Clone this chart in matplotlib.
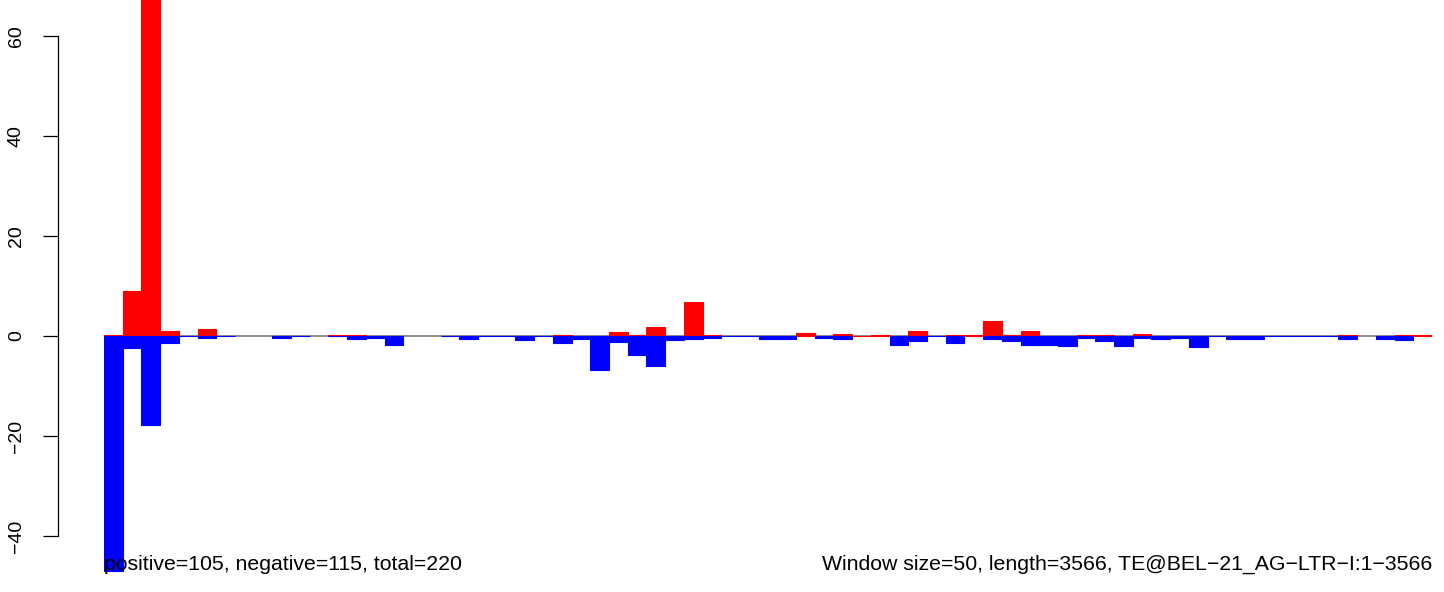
import numpy as np
import matplotlib
matplotlib.use("Agg")
import matplotlib.pyplot as plt

plt.rcParams['font.family'] = ['Liberation Sans', 'DejaVu Sans']

window = 50
length = 3566
n_bins = 71

positive = [0.2, 9.0, 75.0, 1.0, 0, 1.4, 0, 0, 0, 0,
            0, 0, 0.2, 0.2, 0, 0, 0, 0, 0, 0,
            0, 0, 0, 0, 0.2, 0, 0, 0.8, 0.2, 1.8,
            0, 6.8, 0.2, 0, 0, 0, 0, 0.6, 0, 0.4,
            0.05, 0.2, 0, 1.0, 0, 0.2, 0.2, 3.0, 0.2, 1.0,
            0, 0, 0.2, 0.2, 0, 0.4, 0, 0, 0, 0,
            0, 0, 0, 0, 0, 0, 0.2, 0, 0, 0.2,
            0.2]

negative = [-46.9, -2.3, -17.8, -1.3, -0.05, -0.4, -0.05, 0, 0, -0.4,
            -0.05, 0, -0.05, -0.6, -0.3, -1.7, 0, 0, -0.05, -0.5,
            -0.05, -0.05, -0.7, -0.05, -1.3, -0.5, -6.8, -1.1, -3.8, -6.0,
            -0.8, -0.5, -0.4, -0.05, -0.05, -0.6, -0.6, 0, -0.4, -0.6,
            0, 0, -1.8, -1.0, -0.05, -1.4, 0, -0.6, -1.0, -1.8,
            -1.8, -2.0, -0.3, -1.0, -2.0, -0.3, -0.6, -0.3, -2.2, -0.05,
            -0.6, -0.6, -0.05, -0.05, -0.05, -0.05, -0.6, 0, -0.6, -0.8,
            0]

yticks = [-40, -20, 0, 20, 40, 60]
ytick_labels = ['\u221240', '\u221220', '0', '20', '40', '60']

left_text = "positive=105, negative=115, total=220"
right_text = "Window size=50, length=3566, TE@BEL\u221221_AG\u2212LTR\u2212I:1\u22123566"

W, H = 1444, 592
fig = plt.figure(figsize=(W / 100, H / 100), dpi=100)
ax = fig.add_axes([104 / W, 0, 1328 / W, 1])

starts = np.arange(n_bins) * window
pos = np.array(positive, dtype=float)
neg = np.array(negative, dtype=float)

ax.axhline(0, color='#7a7a7a', lw=1.2, zorder=1)

mp = pos != 0
ax.bar(starts[mp], pos[mp], width=window, align='edge', color='#ff0000',
       edgecolor='#ff0000', linewidth=0.8, zorder=2)
mn = neg != 0
ax.bar(starts[mn], neg[mn], width=window, align='edge', color='#0000ff',
       edgecolor='#0000ff', linewidth=0.8, zorder=3)

ax.set_xlim(0, n_bins * window)
ax.set_ylim(-51.2, 67.2)

for s in ['top', 'right', 'bottom']:
    ax.spines[s].set_visible(False)
ax.spines['left'].set_position(('outward', 46.5 * 0.72))
ax.spines['left'].set_bounds(-40, 60)
ax.spines['left'].set_linewidth(0.9)
ax.set_xticks([])
ax.set_yticks(yticks)
ax.set_yticklabels(ytick_labels, rotation=90, va='center', fontsize=14)
ax.tick_params(axis='y', length=10.5, width=0.9, pad=13)
ax.patch.set_visible(False)

fig.text(104 / W, 1 - 570 / H, left_text, ha='left', va='baseline', fontsize=15.3)
fig.text(1432 / W, 1 - 570 / H, right_text, ha='right', va='baseline', fontsize=15.3)

fig.savefig('out.png', dpi=100, facecolor='white')
